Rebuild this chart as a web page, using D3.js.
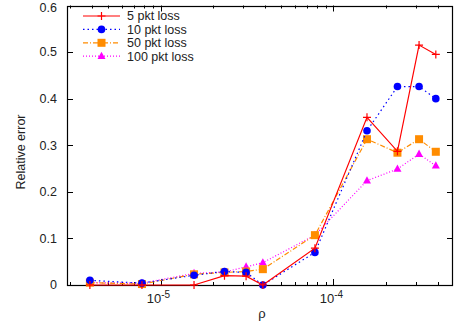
<!DOCTYPE html>
<html><head><meta charset="utf-8">
<script src="https://cdn.jsdelivr.net/npm/d3@7"></script>
<style>body{margin:0;background:#fff}svg{display:block;font-family:"Liberation Sans",Arial,sans-serif}</style>
</head><body><svg id="c" width="455" height="324"></svg>
<script>
const rho = [3.906e-6, 7.8125e-6, 1.5625e-5, 2.34375e-5, 3.125e-5, 3.90625e-5, 7.8125e-5, 1.5625e-4, 2.34375e-4, 3.125e-4, 3.90625e-4];
const loss5   = [0.0, 0.0, 0.0, 0.02, 0.019, 0.0, 0.079, 0.36, 0.287, 0.515, 0.495];
const loss10  = [0.01, 0.004, 0.021, 0.029, 0.027, 0.0, 0.070, 0.331, 0.426, 0.426, 0.40];
const loss50  = [0.005, 0.002, 0.023, 0.027, 0.029, 0.034, 0.107, 0.313, 0.284, 0.313, 0.286];
const loss100 = [0.005, 0.004, 0.025, 0.028, 0.039, 0.048, 0.107, 0.224, 0.249, 0.281, 0.256];
const seriesNames = ["5 pkt loss", "10 pkt loss", "50 pkt loss", "100 pkt loss"];
const yTicks = [0, 0.1, 0.2, 0.3, 0.4, 0.5, 0.6];
const xMajor = [1e-5, 1e-4];

const svg = d3.select("#c");
const L = 67, R = 453, T = 5.5, B = 285;
const x = d3.scaleLog().domain([2.88e-6, 4.91e-4]).range([L, R]);
const y = d3.scaleLinear().domain([0, 0.6]).range([B, T]);

const series = [
  {name: seriesNames[0], v: loss5, color: "#ff0000", dash: null, sym: "plus"},
  {name: seriesNames[1], v: loss10, color: "#0000ff", dash: "1.5,3", sym: "circle"},
  {name: seriesNames[2], v: loss50, color: "#ff8c00", dash: "5,2,1,2", sym: "square"},
  {name: seriesNames[3], v: loss100, color: "#ff00ff", dash: "1,2", sym: "triangle"}
];

// ticks
const minor = [];
for (let e = -6; e <= -4; e++) for (let m = 1; m <= 9; m++) { const v = m * Math.pow(10, e); if (v >= x.domain()[0] && v <= x.domain()[1]) minor.push({v, major: m === 1}); }
const g = svg.append("g").attr("stroke", "#000").attr("stroke-width", 1);
minor.forEach(t => {
  const len = t.major ? 6 : 3; const px = Math.round(x(t.v)) + 0.5;
  g.append("line").attr("x1", px).attr("x2", px).attr("y1", B).attr("y2", B - len);
  g.append("line").attr("x1", px).attr("x2", px).attr("y1", T).attr("y2", T + len);
});
yTicks.forEach(t => {
  const py = Math.round(y(t)) + 0.5;
  g.append("line").attr("x1", L).attr("x2", L + 6).attr("y1", py).attr("y2", py);
  g.append("line").attr("x1", R).attr("x2", R - 6).attr("y1", py).attr("y2", py);
});
svg.append("rect").attr("x", L + 0.5).attr("y", Math.round(T) + 0.5).attr("width", R - L - 1).attr("height", B - Math.round(T))
  .attr("fill", "none").attr("stroke", "#000").attr("stroke-width", 1.2);

// tick labels
svg.selectAll(".yl").data(yTicks).enter().append("text")
  .attr("x", 57).attr("y", d => Math.max(y(d) + 4.3, 11.5)).attr("text-anchor", "end").attr("font-size", 12.5).attr("fill", "#222")
  .text(d => d === 0 ? "0" : d3.format(".1f")(d));
xMajor.forEach(v => {
  const t = svg.append("text").attr("x", x(v) - 2).attr("y", 303).attr("text-anchor", "middle").attr("font-size", 13).attr("fill", "#222");
  t.append("tspan").text("10");
  t.append("tspan").attr("dy", -5).attr("font-size", 10).text(String(Math.round(Math.log10(v))));
});
svg.append("text").attr("x", (L + R) / 2 + 2).attr("y", 318).attr("text-anchor", "middle").attr("font-size", 13).attr("fill", "#222").text("ρ");
svg.append("text").attr("transform", "translate(25,152) rotate(-90)").attr("text-anchor", "middle").attr("font-size", 12.5).attr("fill", "#222").text("Relative error");

function drawSym(sel, s, cx, cy) {
  if (s.sym === "plus") {
    sel.append("path").attr("d", `M${cx-4},${cy}H${cx+4}M${cx},${cy-4}V${cy+4}`).attr("stroke", s.color).attr("stroke-width", 1.2);
  } else if (s.sym === "circle") {
    sel.append("circle").attr("cx", cx).attr("cy", cy).attr("r", 3.8).attr("fill", s.color);
  } else if (s.sym === "square") {
    sel.append("rect").attr("x", cx - 4).attr("y", cy - 4).attr("width", 8).attr("height", 8).attr("fill", s.color);
  } else {
    sel.append("path").attr("d", `M${cx},${cy-4.5}L${cx+4},${cy+2.8}L${cx-4},${cy+2.8}Z`).attr("fill", s.color);
  }
}

const line = d3.line().x((d, i) => x(rho[i])).y(d => y(d));
const plot = svg.append("g");
series.slice().reverse().forEach(s => {
  plot.append("path").datum(s.v).attr("d", line).attr("fill", "none").attr("stroke", s.color).attr("stroke-width", 1.2)
    .attr("stroke-dasharray", s.dash);
  const gs = plot.append("g");
  s.v.forEach((v, i) => drawSym(gs, s, x(rho[i]), y(v)));
});

// legend
series.forEach((s, i) => {
  const ly = 16 + i * 13.4;
  svg.append("line").attr("x1", 83).attr("x2", 120).attr("y1", ly).attr("y2", ly).attr("stroke", s.color).attr("stroke-width", 1.2).attr("stroke-dasharray", s.dash);
  drawSym(svg, s, 101.5, ly);
  svg.append("text").attr("x", 127).attr("y", ly + 4.3).attr("font-size", 12.5).attr("fill", "#222").text(s.name);
});
</script></body></html>
